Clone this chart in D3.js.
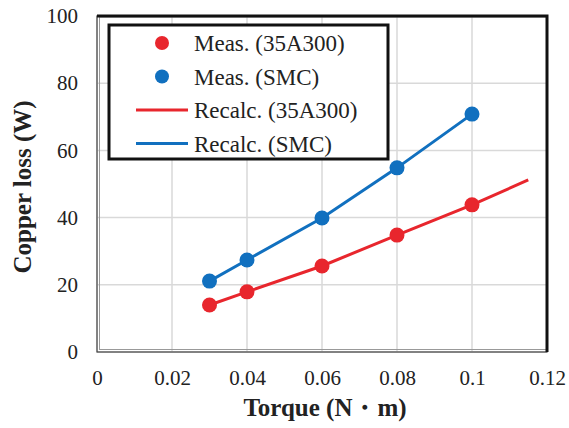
<!DOCTYPE html>
<html>
<head>
<meta charset="utf-8">
<script src="https://cdn.jsdelivr.net/npm/d3@7"></script>
<style>
  body { margin: 0; background: #fff; }
</style>
</head>
<body>
<div class="svg-container"></div>
<script>
// measured points
var torque = [0.03, 0.04, 0.06, 0.08, 0.1];
var meas35A300 = [14.0, 17.9, 25.6, 34.8, 43.8];
var measSMC = [21.1, 27.4, 39.9, 54.8, 70.8];

// recalculated curves
var recalcTorque35A300 = [0.03, 0.04, 0.06, 0.08, 0.1, 0.115];
var recalc35A300 = [14.0, 17.9, 25.6, 34.8, 43.8, 51.2];
var recalcTorqueSMC = [0.03, 0.04, 0.06, 0.08, 0.1];
var recalcSMC = [21.1, 27.4, 39.9, 54.8, 70.8];

var xTicks = [0, 0.02, 0.04, 0.06, 0.08, 0.1, 0.12];
var yTicks = [0, 20, 40, 60, 80, 100];

var legendLabels = ["Meas. (35A300)", "Meas. (SMC)", "Recalc. (35A300)", "Recalc. (SMC)"];

var red = "#e8262d", blue = "#1170bf";
var serif = "'Liberation Serif', 'Times New Roman', 'DejaVu Serif', serif";

var W = 569, H = 428;
var margin = {top: 16, right: 22, bottom: 76, left: 97},
    width = W - margin.left - margin.right,
    height = H - margin.top - margin.bottom;

var svg = d3.select(".svg-container").append("svg")
  .attr("width", W)
  .attr("height", H)
  .attr("font-family", serif);

var g = svg.append("g")
  .attr("transform", "translate(" + margin.left + "," + margin.top + ")");

var x = d3.scaleLinear().domain([0, 0.12]).range([0, width]);
var y = d3.scaleLinear().domain([0, 100]).range([height, 0]);

// grid lines
g.selectAll(".vgrid").data(xTicks).enter().append("line")
  .attr("x1", function(d) { return x(d); })
  .attr("x2", function(d) { return x(d); })
  .attr("y1", 0).attr("y2", height)
  .style("stroke", "#d9d9d9").style("stroke-width", 1.5);

g.selectAll(".hgrid").data(yTicks).enter().append("line")
  .attr("y1", function(d) { return y(d); })
  .attr("y2", function(d) { return y(d); })
  .attr("x1", 0).attr("x2", width)
  .style("stroke", "#d9d9d9").style("stroke-width", 1.5);

// x axis labels
var xAxis = g.append("g")
  .attr("transform", "translate(0," + height + ")")
  .call(d3.axisBottom(x).tickValues(xTicks).tickSize(0).tickPadding(18)
    .tickFormat(function(d) { return d3.format("")(+d.toFixed(2)); }));
xAxis.attr("font-family", serif).attr("font-size", 21);
xAxis.select(".domain").remove();
xAxis.selectAll("text").attr("fill", "#222");

// y axis labels
var yAxis = g.append("g")
  .call(d3.axisLeft(y).tickValues(yTicks).tickSize(0).tickPadding(19));
yAxis.attr("font-family", serif).attr("font-size", 21);
yAxis.select(".domain").remove();
yAxis.selectAll("text").attr("fill", "#222");

// plot frame
g.append("rect")
  .attr("x", 0).attr("y", 0).attr("width", width).attr("height", height)
  .style("fill", "none").style("stroke", "#444").style("stroke-width", 1.2);
g.append("rect")
  .attr("x", 2.5).attr("y", 1).attr("width", width - 3).attr("height", height - 3.5)
  .style("fill", "none").style("stroke", "#999").style("stroke-width", 1);
g.append("path")
  .attr("d", "M0,0H" + width + "V" + height)
  .style("fill", "none").style("stroke", "#111").style("stroke-width", 3);

// lines
var line = d3.line()
  .x(function(d) { return x(d[0]); })
  .y(function(d) { return y(d[1]); });

g.append("path")
  .datum(d3.zip(recalcTorque35A300, recalc35A300))
  .attr("d", line)
  .style("fill", "none").style("stroke", red).style("stroke-width", 3);

g.append("path")
  .datum(d3.zip(recalcTorqueSMC, recalcSMC))
  .attr("d", line)
  .style("fill", "none").style("stroke", blue).style("stroke-width", 3);

// markers
g.selectAll(".dotRed").data(d3.zip(torque, meas35A300)).enter().append("circle")
  .attr("cx", function(d) { return x(d[0]); })
  .attr("cy", function(d) { return y(d[1]); })
  .attr("r", 7.5).style("fill", red);

g.selectAll(".dotBlue").data(d3.zip(torque, measSMC)).enter().append("circle")
  .attr("cx", function(d) { return x(d[0]); })
  .attr("cy", function(d) { return y(d[1]); })
  .attr("r", 7.5).style("fill", blue);

// legend
var leg = svg.append("g").attr("transform", "translate(109,25)");
leg.append("rect")
  .attr("x", 0).attr("y", 0).attr("width", 279).attr("height", 134)
  .style("fill", "#fff").style("stroke", "#111").style("stroke-width", 3);

var legendKinds = ["dot", "dot", "line", "line"];
var legendColors = [red, blue, red, blue];

legendLabels.forEach(function(label, i) {
  var cy = 18 + i * 33.5;
  if (legendKinds[i] == "dot") {
    leg.append("circle").attr("cx", 53).attr("cy", cy).attr("r", 7)
      .style("fill", legendColors[i]);
  } else {
    leg.append("line").attr("x1", 27).attr("x2", 79).attr("y1", cy).attr("y2", cy)
      .style("stroke", legendColors[i]).style("stroke-width", 3);
  }
  leg.append("text")
    .attr("x", 85).attr("y", cy).attr("dy", "0.35em")
    .attr("font-size", 23).attr("fill", "#222")
    .text(label);
});

// axis titles
svg.append("text")
  .attr("transform", "translate(" + (margin.left + width / 2 + 3) + "," + 416 + ")")
  .attr("text-anchor", "middle")
  .attr("font-size", 25).attr("font-weight", "bold").attr("fill", "#222")
  .text("Torque (N・m)");

svg.append("text")
  .attr("transform", "translate(31," + (margin.top + height / 2 + 3) + ") rotate(-90)")
  .attr("text-anchor", "middle")
  .attr("font-size", 25).attr("font-weight", "bold").attr("fill", "#222")
  .text("Copper loss (W)");
</script>
</body>
</html>
